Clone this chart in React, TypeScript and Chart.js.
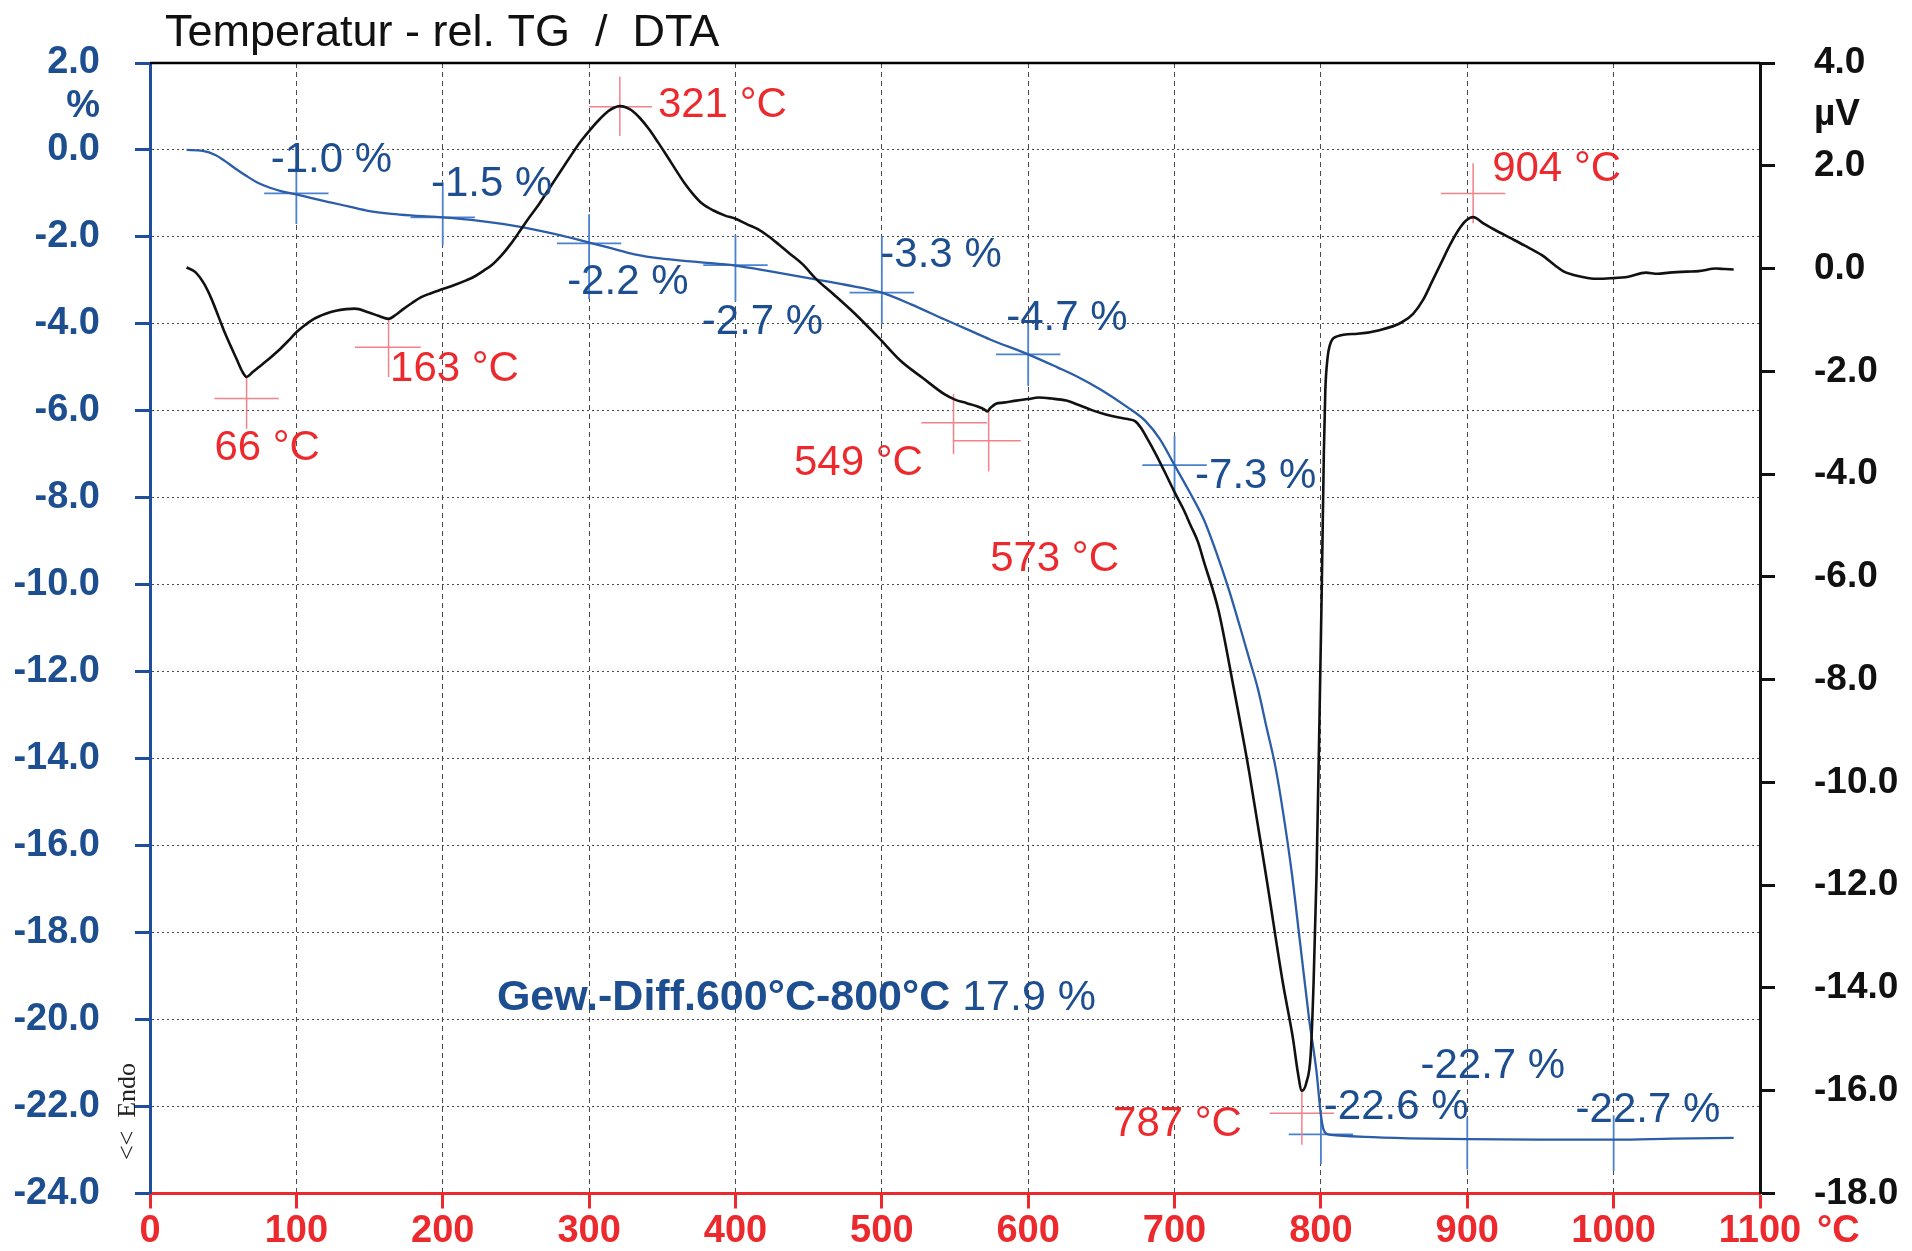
import React, { useEffect, useRef } from "react";
import { Chart, registerables } from "chart.js";

Chart.register(...registerables);

// ---------- axes ----------
const xTickValues = [0, 100, 200, 300, 400, 500, 600, 700, 800, 900, 1000, 1100];
const tgTickValues = [2, 1, 0, -2, -4, -6, -8, -10, -12, -14, -16, -18, -20, -22, -24];
const dtaTickValues = [4, 3, 2, 0, -2, -4, -6, -8, -10, -12, -14, -16, -18];
const tgUnitTick = 1;
const tgUnit = "%";
const dtaUnitTick = 3;
const dtaUnit = "µV";
const xUnit = "°C";
const title = "Temperatur - rel. TG  /  DTA";
const endoLabel = "<<  Endo";

// ---------- DTA (µV) ----------
const dtaTemps = [
  25, 31, 37, 42, 47, 51, 55, 59, 63, 66, 70, 76, 82, 88, 94, 100, 106, 112, 120, 127,
  134, 140, 149, 156, 163, 168, 173, 179, 185, 192, 200, 208, 216, 222, 228, 234, 240, 246, 252, 258,
  265, 271, 277, 283, 289, 295, 301, 307, 313, 317, 321, 325, 329, 335, 341, 347, 353, 359, 365, 371,
  377, 385, 393, 400, 408, 415, 423, 430, 438, 446, 455, 467, 482, 498, 513, 528, 543, 550, 558, 565,
  570, 572, 574, 578, 583, 592, 600, 607, 616, 626, 635, 644, 653, 662, 668, 673, 677, 681, 687, 693,
  700, 706, 711, 716, 720, 730, 740, 751, 763, 774, 781, 784, 787, 790, 793, 795, 797, 799, 800.6, 802,
  803, 804.5, 806, 811, 825, 840, 855, 863, 870, 876, 882, 888, 894, 899, 904, 911, 919, 929, 939, 951,
  960, 966, 972, 978, 988, 998, 1010, 1022, 1030, 1038, 1050, 1058, 1070, 1076, 1082,
];
const dtaValues = [
  0.02, -0.07, -0.3, -0.59, -0.95, -1.24, -1.5, -1.75, -2.0, -2.11, -2.02, -1.88, -1.74, -1.59, -1.42, -1.24, -1.1, -0.98, -0.88, -0.82,
  -0.79, -0.78, -0.85, -0.92, -0.98, -0.9, -0.79, -0.67, -0.56, -0.48, -0.4, -0.32, -0.23, -0.15, -0.04, 0.08, 0.25, 0.46, 0.7, 0.95,
  1.22, 1.48, 1.74, 2.0, 2.26, 2.5, 2.71, 2.9, 3.06, 3.13, 3.16, 3.14, 3.08, 2.92, 2.71, 2.46, 2.2, 1.93, 1.67, 1.45,
  1.27, 1.13, 1.03, 0.97, 0.86, 0.77, 0.62, 0.46, 0.27, 0.08, -0.2, -0.5, -0.89, -1.35, -1.8, -2.13, -2.45, -2.55, -2.62, -2.68,
  -2.74, -2.78, -2.72, -2.63, -2.61, -2.57, -2.54, -2.51, -2.53, -2.57, -2.66, -2.76, -2.84, -2.9, -2.93, -2.97, -3.1, -3.29, -3.6, -3.94,
  -4.35, -4.68, -5.0, -5.32, -5.7, -6.65, -8.1, -9.8, -11.9, -13.9, -15.0, -15.6, -16.0, -15.85, -15.3, -13.9, -11.8, -8.8, -6.2, -3.6,
  -2.38, -1.75, -1.5, -1.32, -1.27, -1.2, -1.05, -0.88, -0.6, -0.25, 0.1, 0.45, 0.75, 0.93, 1.0, 0.88, 0.75, 0.6, 0.45, 0.26,
  0.06, -0.06, -0.12, -0.16, -0.2, -0.19, -0.16, -0.08, -0.1, -0.08, -0.06, -0.05, 0.0, -0.01, -0.02,
];

// ---------- TG (%) ----------
const tgTemps = [
  25, 36, 45, 51, 58, 66, 74, 82, 90, 100, 112, 124, 137, 149, 165, 180, 200, 225, 255, 280,
  300, 315, 331, 350, 375, 400, 425, 452, 475, 500, 520, 543, 560, 574, 600, 620, 634, 650, 668, 680,
  690, 700, 710, 720, 729, 737, 745, 751, 757, 763, 769, 774, 780, 786, 792, 797, 800, 802, 805, 810,
  830, 860, 900, 950, 1000, 1040, 1082,
];
const tgValues = [
  0.0, -0.02, -0.12, -0.25, -0.42, -0.6, -0.76, -0.87, -0.95, -1.02, -1.12, -1.21, -1.31, -1.4, -1.47, -1.51, -1.55, -1.63, -1.78, -1.96,
  -2.13, -2.26, -2.4, -2.5, -2.58, -2.66, -2.8, -2.96, -3.1, -3.28, -3.55, -3.9, -4.15, -4.36, -4.7, -5.0, -5.22, -5.52, -5.92, -6.23,
  -6.65, -7.25, -7.85, -8.5, -9.3, -10.1, -11.0, -11.7, -12.4, -13.3, -14.2, -15.2, -16.6, -18.3, -20.0, -21.2, -22.2, -22.55, -22.64, -22.66,
  -22.7, -22.73, -22.75, -22.76, -22.76, -22.74, -22.72,
];

// ---------- DTA peak markers (µV axis) ----------
const peakTemps = [66, 163, 321, 549, 573, 787, 904];
const peakLabels = ["66 °C", "163 °C", "321 °C", "549 °C", "573 °C", "787 °C", "904 °C"];
const peakCrossLevel = [-2.53, -1.53, 3.15, -3.0, -3.35, -16.44, 1.46];
const peakCrossTop = [-2.11, -0.98, 3.73, -2.44, -2.77, -16.0, 2.05];
const peakCrossBottom = [-3.12, -2.11, 2.58, -3.61, -3.95, -17.05, 0.88];
const peakCrossFrom = [44, 140, 300, 527, 549, 765, 882];
const peakCrossTo = [88, 185, 343, 572, 595, 809, 926];
const peakLabelT = [44, 164, 347, 440, 574, 658, 917];
const peakLabelV = [-3.5, -1.96, 3.17, -3.8, -5.67, -16.65, 1.93];

// ---------- TG step markers (% axis) ----------
const stepTemps = [100, 200, 300, 400, 500, 600, 700, 800, 900, 1000];
const stepValues = [-1.0, -1.5, -2.2, -2.7, -3.3, -4.7, -7.3, -22.6, -22.7, -22.7];
const stepLevel = [-1.0, -1.55, -2.15, -2.65, -3.28, -4.7, -7.25, -22.64, null, null];
const stepTop = [-0.37, -0.75, -1.48, -1.95, -1.98, -4.0, -6.57, -22.08, -22.25, -22.2];
const stepBottom = [-1.7, -2.2, -3.43, -3.48, -4.0, -5.43, -8.0, -23.32, -23.45, -23.48];
const stepLabelT = [82.5, 192, 285, 377, 499, 585, 714, 802, 868, 974];
const stepLabelV = [-0.25, -0.8, -3.05, -3.97, -2.43, -3.88, -7.5, -22.03, -21.08, -22.09];

const diffLabelBold = "Gew.-Diff.600°C-800°C";
const diffValue = 17.9;
const diffLabelT = 237;
const diffLabelV = -19.5;

// ---------- styles ----------
const BLUE_TEXT = "#1d4e8f";
const BLUE_LINE = "#2c5da8";
const BLUE_AXIS = "#1f4f9c";
const BLUE_MARK = "#4a82d0";
const RED = "#ec2a2e";
const RED_MARK = "#f3828a";
const GRID = "#4a4a4a";
const FONT = "'Liberation Sans', Arial, sans-serif";
const TRANSPARENT = "rgba(0,0,0,0)";

type P = { x: number; y: number | null };

function crossSegments(): P[] {
  const pts: P[] = [];
  peakTemps.forEach((t, i) => {
    pts.push({ x: t, y: peakCrossTop[i] }, { x: t, y: peakCrossBottom[i] }, { x: t, y: null });
    pts.push(
      { x: peakCrossFrom[i], y: peakCrossLevel[i] },
      { x: peakCrossTo[i], y: peakCrossLevel[i] },
      { x: peakCrossTo[i], y: null }
    );
  });
  return pts;
}

function stepSegments(): P[] {
  const pts: P[] = [];
  stepTemps.forEach((t, i) => {
    pts.push({ x: t, y: stepTop[i] }, { x: t, y: stepBottom[i] }, { x: t, y: null });
    const lv = stepLevel[i];
    if (lv !== null) {
      pts.push({ x: t - 22, y: lv }, { x: t + 22, y: lv }, { x: t + 22, y: null });
    }
  });
  return pts;
}

const overlayPlugin = {
  id: "overlay",
  afterDatasetsDraw(chart: any) {
    const { ctx, scales, chartArea } = chart;
    const x = scales.x;
    const yL = scales.yL;
    const yR = scales.yR;
    ctx.save();
    ctx.textAlign = "left";
    ctx.textBaseline = "middle";
    // red DTA peak labels
    ctx.font = `42px ${FONT}`;
    ctx.fillStyle = RED;
    peakLabels.forEach((s, i) => {
      ctx.fillText(s, x.getPixelForValue(peakLabelT[i]), yR.getPixelForValue(peakLabelV[i]));
    });
    // blue TG step labels
    ctx.fillStyle = BLUE_TEXT;
    stepValues.forEach((v, i) => {
      ctx.fillText(`${v.toFixed(1)} %`, x.getPixelForValue(stepLabelT[i]), yL.getPixelForValue(stepLabelV[i]));
    });
    // weight difference
    const dx = x.getPixelForValue(diffLabelT);
    const dy = yL.getPixelForValue(diffLabelV);
    ctx.font = `bold 43px ${FONT}`;
    ctx.fillText(diffLabelBold, dx, dy);
    const w = ctx.measureText(diffLabelBold + " ").width;
    ctx.font = `43px ${FONT}`;
    ctx.fillText(`${diffValue.toFixed(1)} %`, dx + w, dy);

    // top frame line
    ctx.strokeStyle = "#000";
    ctx.lineWidth = 2.5;
    ctx.beginPath();
    ctx.moveTo(chartArea.left, chartArea.top);
    ctx.lineTo(chartArea.right, chartArea.top);
    ctx.stroke();
    ctx.restore();
  },
  afterDraw(chart: any) {
    const { ctx, scales, chartArea } = chart;
    const x = scales.x;
    ctx.save();
    // title
    ctx.fillStyle = "#111";
    ctx.font = `45px ${FONT}`;
    ctx.textAlign = "left";
    ctx.textBaseline = "alphabetic";
    ctx.fillText(title, chartArea.left + 15, 46);
    // x unit
    ctx.fillStyle = RED;
    ctx.font = `bold 38px ${FONT}`;
    ctx.textBaseline = "middle";
    ctx.fillText(xUnit, x.getPixelForValue(1100) + 57, x.top + 38);
    // endo marker
    ctx.translate(chartArea.left - 22, chartArea.bottom - 82);
    ctx.rotate(-Math.PI / 2);
    ctx.fillStyle = "#222";
    ctx.font = `26px 'Liberation Serif', 'Times New Roman', serif`;
    ctx.textAlign = "center";
    ctx.fillText(endoLabel, 0, 0);
    ctx.restore();
  },
};

export default function App() {
  const ref = useRef<HTMLCanvasElement | null>(null);

  useEffect(() => {
    document.body.style.margin = "0";
    const canvas = ref.current;
    if (!canvas) return;

    const dtaData = dtaTemps.map((t, i) => ({ x: t, y: dtaValues[i] }));
    const tgData = tgTemps.map((t, i) => ({ x: t, y: tgValues[i] }));

    const chart = new Chart(canvas, {
      type: "line",
      data: {
        datasets: [
          {
            label: "DTA",
            data: dtaData,
            yAxisID: "yR",
            borderColor: "#111",
            borderWidth: 2.6,
            pointRadius: 0,
            cubicInterpolationMode: "monotone",
            fill: false,
          },
          {
            label: "TG",
            data: tgData,
            yAxisID: "yL",
            borderColor: BLUE_LINE,
            borderWidth: 2.3,
            pointRadius: 0,
            cubicInterpolationMode: "monotone",
            fill: false,
          },
          {
            label: "peaks",
            data: crossSegments() as any,
            yAxisID: "yR",
            borderColor: RED_MARK,
            borderWidth: 1.5,
            pointRadius: 0,
            tension: 0,
            spanGaps: false,
            fill: false,
          },
          {
            label: "steps",
            data: stepSegments() as any,
            yAxisID: "yL",
            borderColor: BLUE_MARK,
            borderWidth: 1.8,
            pointRadius: 0,
            tension: 0,
            spanGaps: false,
            fill: false,
          },
        ],
      },
      options: {
        animation: false,
        responsive: false,
        devicePixelRatio: 1,
        events: [],
        layout: { padding: { top: 63, left: 0, right: 0, bottom: 0 } },
        plugins: {
          legend: { display: false },
          title: { display: false },
          tooltip: { enabled: false },
        },
        scales: {
          x: {
            type: "linear",
            position: "bottom",
            min: 0,
            max: 1100,
            afterBuildTicks: (s: any) => {
              s.ticks = xTickValues.map((v) => ({ value: v }));
            },
            afterFit: (s: any) => {
              s.height = 56;
            },
            ticks: {
              color: RED,
              font: { family: FONT, size: 38, weight: "bold", lineHeight: 1 },
              padding: 4,
              maxRotation: 0,
              autoSkip: false,
              callback: (v: any) => String(v),
            },
            grid: {
              color: (c: any) => (c.tick && (c.tick.value === 0 || c.tick.value === 1100) ? TRANSPARENT : GRID),
              lineWidth: 1,
              tickLength: 15,
              tickColor: RED,
              tickWidth: 3,
            },
            border: { color: RED, width: 3, dash: [5, 4] },
          },
          yL: {
            type: "linear",
            position: "left",
            min: -24,
            max: 2,
            afterBuildTicks: (s: any) => {
              s.ticks = tgTickValues.map((v) => ({ value: v }));
            },
            afterFit: (s: any) => {
              s.width = 150;
            },
            ticks: {
              color: BLUE_TEXT,
              font: { family: FONT, size: 38, weight: "bold", lineHeight: 1 },
              padding: 35,
              autoSkip: false,
              callback: (v: any) => (v === tgUnitTick ? tgUnit : Number(v).toFixed(1)),
            },
            grid: {
              color: (c: any) =>
                c.tick && (c.tick.value === tgUnitTick || c.tick.value === 2 || c.tick.value === -24) ? TRANSPARENT : GRID,
              lineWidth: 1,
              tickLength: 15,
              tickColor: (c: any) => (c.tick && c.tick.value === tgUnitTick ? TRANSPARENT : BLUE_AXIS),
              tickWidth: 3,
            },
            border: { color: BLUE_AXIS, width: 3, dash: [2, 3] },
          },
          yR: {
            type: "linear",
            position: "right",
            min: -18,
            max: 4,
            afterBuildTicks: (s: any) => {
              s.ticks = dtaTickValues.map((v) => ({ value: v }));
            },
            afterFit: (s: any) => {
              s.width = 152;
            },
            ticks: {
              color: "#111",
              font: { family: FONT, size: 37, weight: "bold", lineHeight: 1 },
              padding: 39,
              autoSkip: false,
              callback: (v: any) => (v === dtaUnitTick ? dtaUnit : Number(v).toFixed(1)),
            },
            grid: {
              drawOnChartArea: false,
              tickLength: 15,
              tickColor: (c: any) => (c.tick && c.tick.value === dtaUnitTick ? TRANSPARENT : "#111"),
              tickWidth: 3,
            },
            border: { color: "#111", width: 3 },
          },
        },
      } as any,
      plugins: [overlayPlugin],
    });

    return () => chart.destroy();
  }, []);

  return (
    <div style={{ width: 1912, height: 1251, position: "relative", background: "#fff" }}>
      <canvas ref={ref} width={1912} height={1251} style={{ display: "block" }} />
    </div>
  );
}
